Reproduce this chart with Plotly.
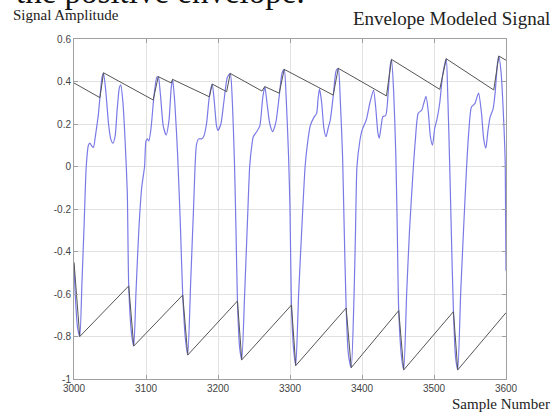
import plotly.graph_objects as go

# Signal (blue) key samples
sig_x = [3000,3002,3005,3008,3011,3014,3017,3020,3022,3025,3027,3030,3034,3036,3039,3041,3044,3048,3051,3054,3057,3060,3063,3065,3068,3071,3074,3076,3080,3083,
         3086,3090,3094,3098,3100,3102,3104,3107,3111,3115,3117,3120,3124,3128,3132,3135,3137,3140,3144,3148,3151,3155,3158,
         3162,3166,3170,3173,3177,3180,3184,3188,3192,3195,3198,3200,3204,3208,3213,3217,3220,3223,3225,3227,3230,3233,
         3237,3241,3244,3247,3249,3253,3258,3262,3265,3268,3272,3276,3279,3281,3285,3289,3292,3295,3298,3300,3302,3305,3308,
         3312,3317,3321,3324,3328,3333,3337,3339,3341,3344,3347,3350,3353,3356,3360,3364,3367,3370,3373,3375,3378,3381,3385,
         3389,3391,3393,3397,3400,3406,3411,3416,3419,3422,3424,3427,3429,3433,3436,3439,3441,3444,3447,3449,3451,3455,3458,
         3462,3466,3471,3474,3478,3483,3486,3489,3492,3495,3498,3501,3504,3508,3512,3517,3519,3522,3524,3527,3530,3533,
         3537,3541,3545,3548,3552,3557,3560,3562,3566,3569,3572,3575,3578,3582,3585,3588,3590,3593,3597,3599,3600]
sig_y = [-0.46,-0.62,-0.76,-0.80,-0.55,-0.28,0.0,0.10,0.11,0.095,0.09,0.15,0.25,0.324,0.42,0.44,0.36,0.20,0.13,0.11,0.14,0.27,0.37,0.384,0.30,0.12,-0.12,-0.56,-0.79,-0.845,
         -0.60,-0.30,-0.10,0.0,0.12,0.13,0.12,0.18,0.33,0.42,0.423,0.34,0.19,0.148,0.22,0.37,0.41,0.30,0.05,-0.30,-0.605,-0.82,-0.887,
         -0.55,-0.20,0.10,0.13,0.13,0.14,0.20,0.33,0.388,0.30,0.19,0.17,0.20,0.30,0.42,0.438,0.30,0.0,-0.30,-0.633,-0.85,-0.91,
         -0.60,-0.25,0.0,0.10,0.14,0.16,0.19,0.32,0.376,0.30,0.20,0.164,0.19,0.22,0.33,0.44,0.457,0.30,0.05,-0.20,-0.652,-0.86,-0.937,
         -0.60,-0.25,0.0,0.10,0.19,0.23,0.25,0.32,0.365,0.30,0.18,0.14,0.18,0.22,0.33,0.45,0.462,0.30,0.05,-0.25,-0.666,-0.88,-0.947,
         -0.60,-0.30,0.0,0.12,0.17,0.22,0.30,0.36,0.28,0.16,0.133,0.20,0.235,0.24,0.33,0.47,0.504,0.35,0.05,-0.30,-0.678,-0.90,-0.957,
         -0.60,-0.30,-0.02,0.12,0.25,0.266,0.30,0.33,0.26,0.14,0.10,0.18,0.22,0.30,0.43,0.507,0.35,-0.02,-0.30,-0.683,-0.90,-0.957,
         -0.60,-0.30,-0.02,0.15,0.28,0.297,0.33,0.345,0.25,0.13,0.086,0.17,0.234,0.27,0.35,0.48,0.52,0.45,0.20,0.0,-0.49]

# Positive envelope
up_x = [3000,3036,3041,3110,3117,3135,3137,3188,3192,3212,3217,3261,3265,3285,3292,3360,3367,3434,3441,3508,3517,3583,3590,3600]
up_y = [0.393,0.324,0.441,0.313,0.423,0.393,0.41,0.328,0.388,0.352,0.438,0.355,0.376,0.345,0.457,0.336,0.462,0.332,0.504,0.363,0.507,0.36,0.52,0.50]

# Negative envelope
lo_x = [3000,3008,3076,3083,3151,3158,3227,3233,3302,3308,3378,3385,3451,3458,3527,3533,3600]
lo_y = [-0.45,-0.80,-0.562,-0.845,-0.605,-0.887,-0.633,-0.91,-0.652,-0.937,-0.666,-0.947,-0.678,-0.957,-0.683,-0.957,-0.688]

x_ticks = [3000,3100,3200,3300,3400,3500,3600]
y_ticks = [-1,-0.8,-0.6,-0.4,-0.2,0,0.2,0.4,0.6]
y_tick_text = ["-1","-0.8","-0.6","-0.4","-0.2","0","0.2","0.4","0.6"]

fig = go.Figure()
fig.add_trace(go.Scatter(x=sig_x, y=sig_y, mode="lines",
                         line=dict(color="#7a7ae6", width=1.2, shape="spline", smoothing=0.6),
                         showlegend=False, hoverinfo="skip"))
fig.add_trace(go.Scatter(x=up_x, y=up_y, mode="lines",
                         line=dict(color="#555555", width=1), showlegend=False, hoverinfo="skip"))
fig.add_trace(go.Scatter(x=lo_x, y=lo_y, mode="lines",
                         line=dict(color="#555555", width=1), showlegend=False, hoverinfo="skip"))

axis_common = dict(showgrid=True, gridcolor="#e2e2e2", gridwidth=1, zeroline=False,
                   showline=True, linecolor="#a0a0a0", linewidth=1, mirror="ticks",
                   ticks="inside", ticklen=4, tickcolor="#a0a0a0",
                   tickfont=dict(family="Arial, Liberation Sans", size=10, color="#444444"))

fig.update_layout(
    width=554, height=414,
    margin=dict(l=74, r=48, t=39, b=35),
    paper_bgcolor="white", plot_bgcolor="white",
    xaxis=dict(range=[3000, 3600], tickvals=x_ticks, ticktext=[str(v) for v in x_ticks], **axis_common),
    yaxis=dict(range=[-1, 0.6], tickvals=y_ticks, ticktext=y_tick_text, **axis_common),
)

serif = "Liberation Serif, Times New Roman, serif"
fig.add_annotation(text="the positive envelope.", xref="paper", yref="paper",
                   x=(14-74)/432, y=1+(39-12)/340, xanchor="left", yanchor="bottom",
                   showarrow=False, font=dict(family=serif, size=33, color="#111111"))
fig.add_annotation(text="Signal Amplitude", xref="paper", yref="paper",
                   x=(11-74)/432, y=1+(39-15)/340, xanchor="left", yanchor="middle",
                   showarrow=False, font=dict(family=serif, size=15, color="#222222"))
fig.add_annotation(text="Envelope Modeled Signal", xref="paper", yref="paper",
                   x=(552-74)/432, y=1+(39-18)/340, xanchor="right", yanchor="middle",
                   showarrow=False, font=dict(family=serif, size=19, color="#222222"))
fig.add_annotation(text="Sample Number", xref="paper", yref="paper",
                   x=(552-74)/432, y=1+(39-404)/340, xanchor="right", yanchor="middle",
                   showarrow=False, font=dict(family=serif, size=15, color="#222222"))

fig.write_html("out.html")
